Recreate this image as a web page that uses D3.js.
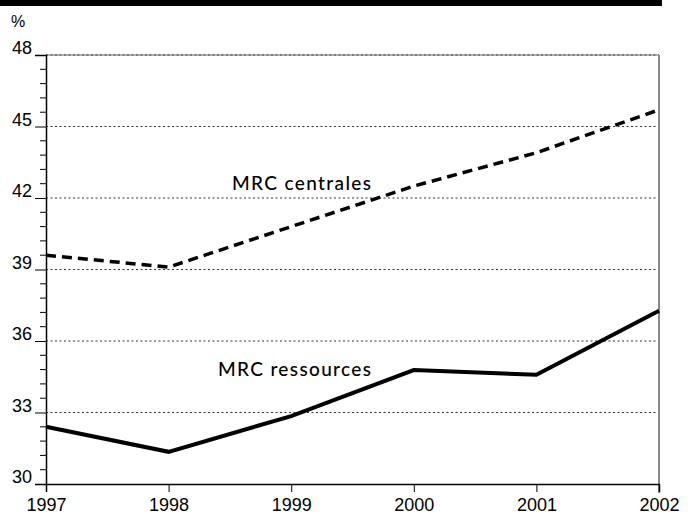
<!DOCTYPE html>
<html>
<head>
<meta charset="utf-8">
<script src="https://cdn.jsdelivr.net/npm/d3@7"></script>
<style>
  body { margin: 0; background: #fff; }
  svg { display: block; }
</style>
</head>
<body>
<svg id="chart" width="695" height="515"></svg>
<script>
const years = [1997, 1998, 1999, 2000, 2001, 2002];
const centrales = [39.6, 39.1, 40.8, 42.5, 43.9, 45.7];
const ressources = [32.4, 31.35, 32.85, 34.78, 34.58, 37.27];
const yTicks = [30, 33, 36, 39, 42, 45, 48];
const seriesLabels = ["MRC centrales", "MRC ressources"];

const svg = d3.select("#chart");
const x = d3.scaleLinear().domain([1997, 2002]).range([46, 659]);
const y = d3.scaleLinear().domain([30, 48]).range([484, 55]);
const axisFont = "Liberation Sans, Arial, sans-serif";

// top black band
svg.append("rect").attr("x", 0).attr("y", 0).attr("width", 662).attr("height", 6).attr("fill", "#000");

// % label
svg.append("text").attr("x", 11).attr("y", 27).text("%")
  .attr("font-family", axisFont).attr("font-size", 16);

// gridlines
svg.append("g").selectAll("line").data(yTicks.filter(d => d !== 30 && d !== 48)).join("line")
  .attr("x1", x(1997)).attr("x2", x(2002))
  .attr("y1", d => y(d)).attr("y2", d => y(d))
  .attr("stroke", "#333").attr("stroke-width", 1).attr("stroke-dasharray", "2,2.5");

// top border
svg.append("line").attr("x1", x(1997)).attr("x2", x(2002)).attr("y1", y(48)).attr("y2", y(48))
  .attr("stroke", "#999").attr("stroke-width", 1.5);
svg.append("line").attr("x1", x(1997)).attr("x2", x(2002)).attr("y1", y(48)).attr("y2", y(48))
  .attr("stroke", "#444").attr("stroke-width", 1).attr("stroke-dasharray", "2,2.5");
// right border
svg.append("line").attr("x1", x(2002)).attr("x2", x(2002)).attr("y1", y(48)).attr("y2", y(30) + 9)
  .attr("stroke", "#888").attr("stroke-width", 2);

// minor y ticks
const minor = d3.range(30, 48.001, 0.6).filter(v => Math.abs(v / 3 - Math.round(v / 3)) > 0.01);
svg.append("g").selectAll("line").data(minor).join("line")
  .attr("x1", x(1997) - 6).attr("x2", x(1997))
  .attr("y1", d => y(d)).attr("y2", d => y(d))
  .attr("stroke", "#000").attr("stroke-width", 1);

// y axis
const yAxis = d3.axisLeft(y).tickValues(yTicks).tickSize(11).tickPadding(2).tickFormat(d3.format("d"));
const gy = svg.append("g").attr("transform", `translate(${x(1997)},0)`).call(yAxis);
gy.select(".domain").attr("stroke", "#000").attr("stroke-width", 1.5);
gy.selectAll(".tick line").attr("stroke", "#000").attr("stroke-width", 1);
gy.selectAll(".tick text").attr("dy", "-0.08em").attr("dx", "-1")
  .attr("font-family", axisFont).attr("font-size", 18).attr("fill", "#000");

// x axis
const xAxis = d3.axisBottom(x).tickValues(years).tickSize(8).tickPadding(6).tickFormat(d3.format("d"));
const gx = svg.append("g").attr("transform", `translate(0,${y(30)})`).call(xAxis);
gx.select(".domain").attr("stroke", "#000").attr("stroke-width", 1.5);
gx.selectAll(".tick line").attr("stroke", "#000").attr("stroke-width", 1);
gx.selectAll(".tick text").attr("font-family", axisFont).attr("font-size", 18).attr("fill", "#000");

const line = d3.line().x((d, i) => x(years[i])).y(d => y(d));

svg.append("path").datum(centrales).attr("d", line)
  .attr("fill", "none").attr("stroke", "#000").attr("stroke-width", 3.5)
  .attr("stroke-dasharray", "10,6");
svg.append("path").datum(ressources).attr("d", line)
  .attr("fill", "none").attr("stroke", "#000").attr("stroke-width", 4)
  .attr("stroke-linejoin", "miter");

// series labels
svg.append("text").attr("x", 232).attr("y", 190).text(seriesLabels[0])
  .attr("font-family", "Lato, sans-serif").attr("font-size", 19).attr("font-weight", 500).attr("textLength", 139);
svg.append("text").attr("x", 218).attr("y", 376).text(seriesLabels[1])
  .attr("font-family", "Lato, sans-serif").attr("font-size", 19).attr("font-weight", 500).attr("textLength", 153);
</script>
</body>
</html>
